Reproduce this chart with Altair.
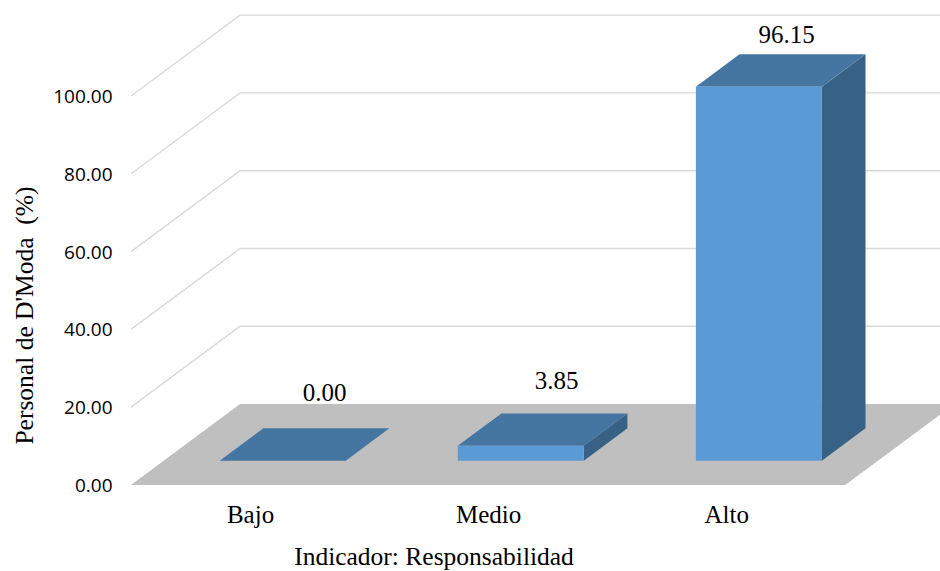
import altair as alt
import pandas as pd

# Chart values
categories = ["Bajo", "Medio", "Alto"]
percentages = [0.00, 3.85, 96.15]
value_ticks = [0, 20, 40, 60, 80, 100]

# Oblique projection of the floor depth (0 = front edge, 1 = back wall)
DEPTH_X = 0.458    # category units gained per unit of depth
DEPTH_Y = 20.8     # percentage units gained per unit of depth
BAR_HALF = 0.2647
BAR_NEAR, BAR_FAR = 0.30, 0.70
X_MAX = 809 / 238.07
Y_MAX = 485 / 3.89

# Nudges that place each value label behind its bar
label_shift = [0.313, 0.288, 0.254]
label_rise = [23.6, 22.9, 19.5]


def px(u, d):
    return u + d * DEPTH_X


def py(v, d):
    return v + d * DEPTH_Y


n = len(categories)
x_scale = alt.Scale(domain=[0, X_MAX], nice=False, zero=False)
y_scale = alt.Scale(domain=[0, Y_MAX], nice=False, zero=False)

cat_expr = " : ".join(f"datum.value == {i + 0.5} ? '{c}'" for i, c in enumerate(categories)) + " : ''"
x_axis = alt.Axis(
    title="Indicador: Responsabilidad", titleFont="Liberation Serif", titleFontSize=25.5,
    titleFontWeight="normal", titleColor="#000000", titleX=302.5, titleY=84,
    titleBaseline="bottom",
    values=[i + 0.5 for i in range(n)], labelExpr=cat_expr, labelFont="Liberation Serif",
    labelFontSize=25, labelColor="#000000", labelPadding=17, domain=False, ticks=False,
    grid=False,
)
y_axis = alt.Axis(
    title="Personal de D'Moda \u00a0(%)", titleFont="Liberation Serif", titleFontSize=25.5,
    titleFontWeight="normal", titleColor="#000000", titleX=-94, titleY=315,
    values=value_ticks, format=".2f", labelFont="Open Sans", labelFontSize=19,
    labelColor="#000000", labelPadding=19, labelOffset=0.5, domain=False, ticks=False,
    grid=False,
)
X = lambda f: alt.X(f, type="quantitative", scale=x_scale, axis=x_axis)
Y = lambda f: alt.Y(f, type="quantitative", scale=y_scale, axis=y_axis, stack=None)

# Floor
floor = pd.DataFrame([
    {"y": py(0, 0), "x": px(0, 0), "x2": px(n, 0)},
    {"y": py(0, 1), "x": px(0, 1), "x2": px(n, 1)},
])
floor_layer = alt.Chart(floor).mark_area(orient="horizontal", color="#bfbfbf", clip=True).encode(
    y=Y("y"), x=X("x"), x2="x2"
)

# Wall grid: diagonal along the side wall, then straight across the back wall
grid_rows = []
for v in value_ticks[1:]:
    grid_rows += [
        {"tick": v, "step": 0, "x": px(0, 0), "y": py(v, 0)},
        {"tick": v, "step": 1, "x": px(0, 1), "y": py(v, 1)},
        {"tick": v, "step": 2, "x": px(n, 1), "y": py(v, 1)},
    ]
grid_layer = alt.Chart(pd.DataFrame(grid_rows)).mark_line(
    color="#d9d9d9", strokeWidth=1.4, clip=True
).encode(x=X("x"), y=Y("y"), detail="tick:N", order="step:Q")

# Bar faces
front_rows, side_rows, top_rows = [], [], []
for i, (name, val) in enumerate(zip(categories, percentages)):
    lo, hi = i + 0.5 - BAR_HALF, i + 0.5 + BAR_HALF
    front_rows += [
        {"bar": name, "x": px(lo, BAR_NEAR), "y": py(0, BAR_NEAR), "y2": py(val, BAR_NEAR)},
        {"bar": name, "x": px(hi, BAR_NEAR), "y": py(0, BAR_NEAR), "y2": py(val, BAR_NEAR)},
    ]
    side_rows += [
        {"bar": name, "x": px(hi, BAR_NEAR), "y": py(0, BAR_NEAR), "y2": py(val, BAR_NEAR)},
        {"bar": name, "x": px(hi, BAR_FAR), "y": py(0, BAR_FAR), "y2": py(val, BAR_FAR)},
    ]
    top_rows += [
        {"bar": name, "y": py(val, BAR_NEAR), "x": px(lo, BAR_NEAR), "x2": px(hi, BAR_NEAR)},
        {"bar": name, "y": py(val, BAR_FAR), "x": px(lo, BAR_FAR), "x2": px(hi, BAR_FAR)},
    ]

side_layer = alt.Chart(pd.DataFrame(side_rows)).mark_area(color="#386285").encode(
    x=X("x"), y=Y("y"), y2="y2", detail="bar:N"
)
top_layer = alt.Chart(pd.DataFrame(top_rows)).mark_area(orient="horizontal", color="#4575a1").encode(
    y=Y("y"), x=X("x"), x2="x2", detail="bar:N"
)
front_layer = alt.Chart(pd.DataFrame(front_rows)).mark_area(color="#5b9bd5").encode(
    x=X("x"), y=Y("y"), y2="y2", detail="bar:N"
)

# Value labels
labels = pd.DataFrame({
    "x": [i + 0.5 + s for i, s in enumerate(label_shift)],
    "y": [v + r for v, r in zip(percentages, label_rise)],
    "text": [f"{v:.2f}" for v in percentages],
})
label_layer = alt.Chart(labels).mark_text(
    font="Liberation Serif", fontSize=25, color="#000000", baseline="middle"
).encode(x=X("x"), y=Y("y"), text="text:N")

chart = alt.layer(
    floor_layer, grid_layer, side_layer, top_layer, front_layer, label_layer
).properties(
    width=809,
    height=485,
    padding={"left": 131, "top": 0, "right": 0, "bottom": 86},
    autosize=alt.AutoSizeParams(type="none"),
    background="#ffffff",
).configure_view(stroke=None)

chart.save("out.html", embed_options={"renderer": "svg", "actions": False})
